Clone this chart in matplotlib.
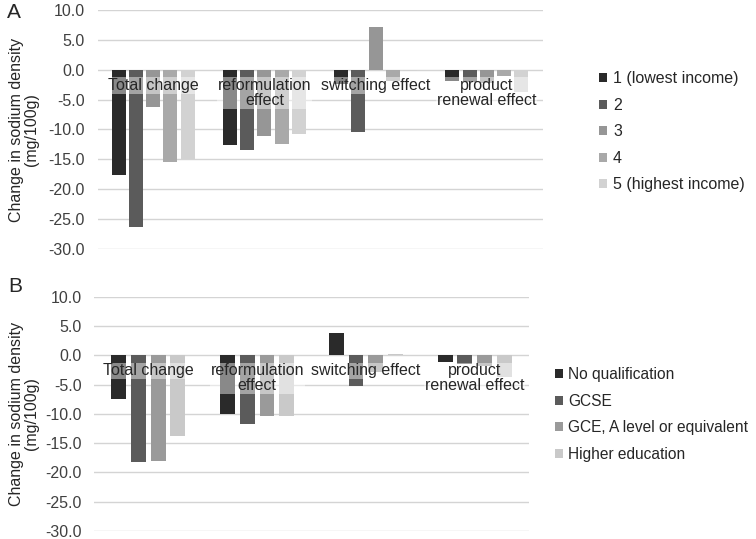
import matplotlib
matplotlib.use("Agg")
import matplotlib.pyplot as plt
from matplotlib.patches import Patch
import numpy as np

plt.rcParams['font.family'] = ['Liberation Sans', 'DejaVu Sans']

categories = ["Total change", "reformulation\neffect", "switching effect", "product\nrenewal effect"]

# Panel A: income quintiles
income_labels = ["1 (lowest income)", "2", "3", "4", "5 (highest income)"]
income_q1 = [-17.6, -12.6, -2.4, -1.9]
income_q2 = [-26.4, -13.4, -10.4, -2.1]
income_q3 = [-6.3, -11.1, 7.1, -2.2]
income_q4 = [-15.4, -12.4, -1.9, -1.1]
income_q5 = [-14.9, -10.8, -0.2, -3.8]
income_colors = ["#2a2a2a", "#5b5b5b", "#969696", "#a9a9a9", "#d2d2d2"]

# Panel B: education
edu_labels = ["No qualification", "GCSE", "GCE, A level or equivalent", "Higher education"]
edu_none = [-7.4, -10.1, 3.8, -1.1]
edu_gcse = [-18.2, -11.7, -5.3, -1.5]
edu_gce = [-18.0, -10.4, -2.8, -1.8]
edu_higher = [-13.7, -10.4, 0.2, -3.7]
edu_colors = ["#2a2a2a", "#5b5b5b", "#9a9a9a", "#c9c9c9"]

yticks = [10, 5, 0, -5, -10, -15, -20, -25, -30]

W, H = 756, 539
fig = plt.figure(figsize=(W / 100, H / 100), dpi=100)
FS = 11.5


def panel(rect, series, colors, labels, pitch, width, letter, letter_xy, leg_anchor, leg_fs):
    ax = fig.add_axes(rect)
    x = np.arange(len(categories))
    n = len(series)
    for i, (vals, c) in enumerate(zip(series, colors)):
        off = (i - (n - 1) / 2) * pitch
        ax.bar(x + off, vals, width=width, color=c, zorder=2)
    ax.set_ylim(-30, 10)
    ax.set_xlim(-0.5, len(categories) - 0.5)
    ax.set_yticks(yticks)
    ax.set_yticklabels([f"{v:.1f}" for v in yticks], fontsize=FS, color="#404040")
    ax.tick_params(axis='y', length=0, pad=9)
    ax.set_xticks([])
    ax.grid(axis='y', color="#d4d4d4", linewidth=1.0, zorder=0)
    ax.set_axisbelow(True)
    for s in ax.spines.values():
        s.set_visible(False)
    for xi, lab in zip(x, categories):
        ax.text(xi, -1.4, lab, ha='center', va='top', fontsize=FS, color="#262626",
                linespacing=1.0, zorder=4,
                bbox=dict(facecolor='white', alpha=0.45, edgecolor='none', pad=0.5))
    bb = ax.get_position()
    fig.text(24 / W, bb.y0 + bb.height / 2, "Change in sodium density\n(mg/100g)",
             rotation=90, ha='center', va='center', fontsize=FS, color="#262626",
             linespacing=1.0)
    fig.text(letter_xy[0] / W, 1 - letter_xy[1] / H, letter, fontsize=15,
             ha='left', va='center', color="#262626")
    handles = [Patch(facecolor=c, edgecolor='none') for c in colors]
    fig.legend(handles, labels, loc='upper left', bbox_to_anchor=leg_anchor,
               frameon=False, fontsize=leg_fs, handlelength=0.5, handleheight=0.5,
               handletextpad=0.35, labelspacing=0.72 * FS / leg_fs, borderaxespad=0,
               labelcolor="#262626")
    return ax


panel([97.5 / W, 1 - 249 / H, 445 / W, 239 / H],
      [income_q1, income_q2, income_q3, income_q4, income_q5], income_colors, income_labels,
      pitch=0.155, width=0.124, letter="A", letter_xy=(7, 13),
      leg_anchor=(593 / W, 1 - 65 / H), leg_fs=FS)

panel([94 / W, 1 - 531 / H, 435 / W, 234.3 / H],
      [edu_none, edu_gcse, edu_gce, edu_higher], edu_colors, edu_labels,
      pitch=0.181, width=0.137, letter="B", letter_xy=(8, 287),
      leg_anchor=(549 / W, 1 - 361 / H), leg_fs=11.2)

fig.savefig("out.png", dpi=100)
